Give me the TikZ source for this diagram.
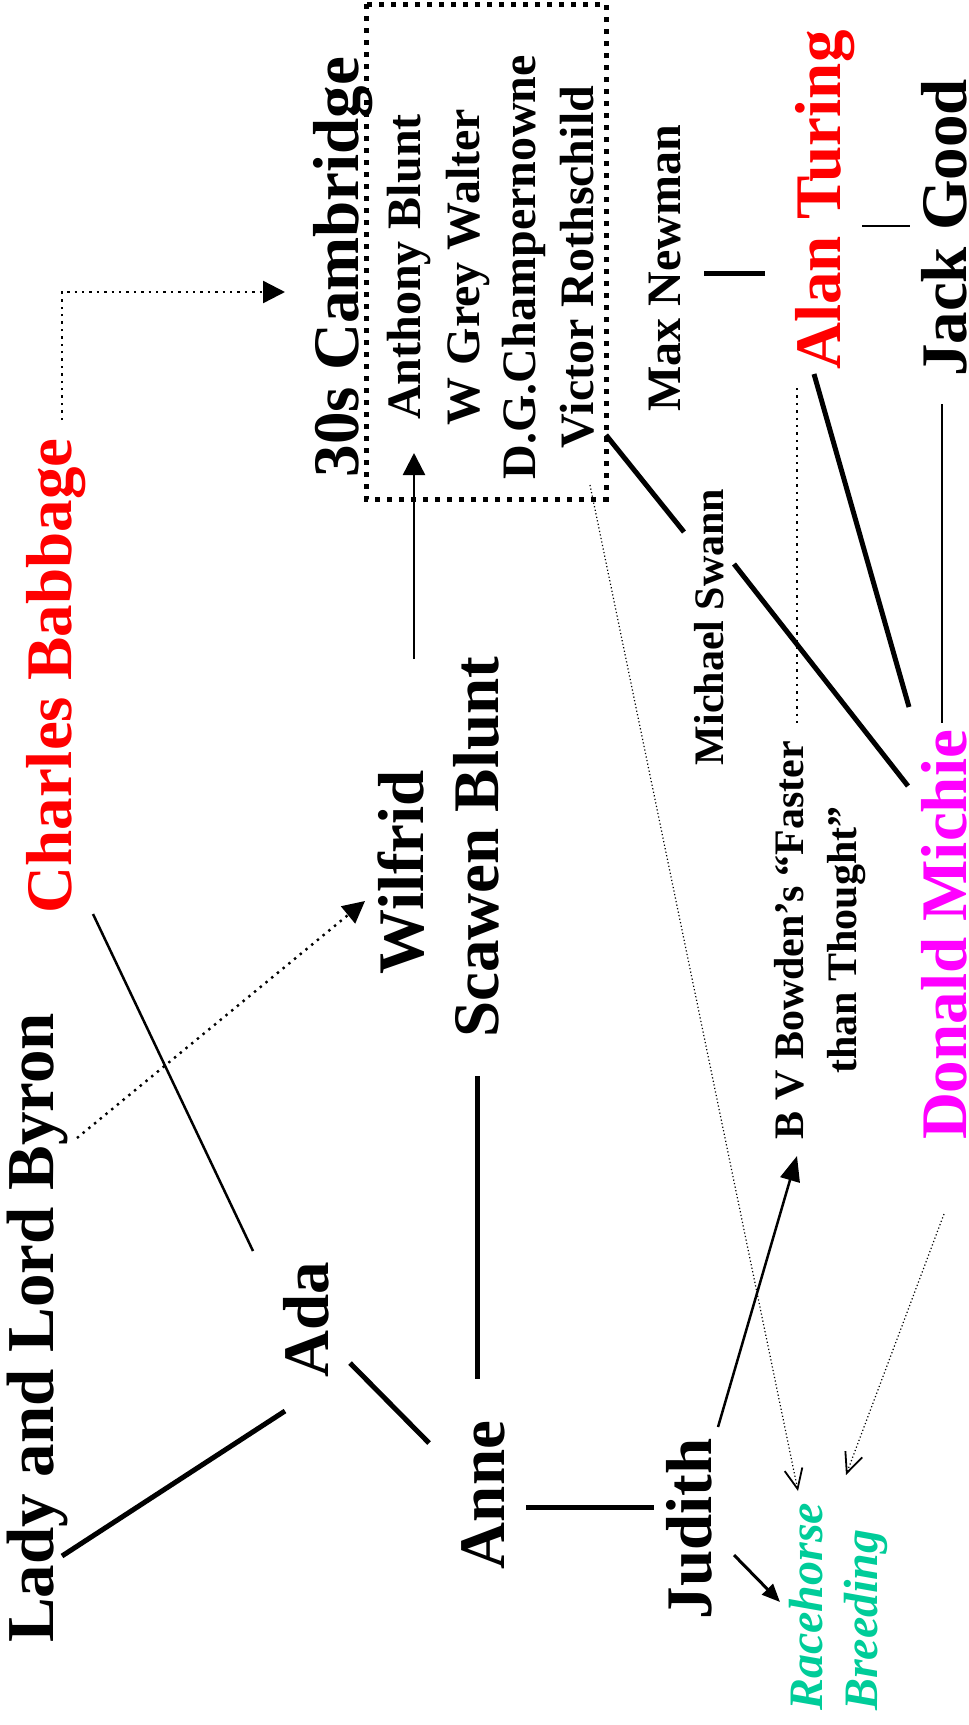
\documentclass[tikz,border=0pt]{standalone}
\usepackage{fontspec}
\setmainfont{Liberation Serif}
\usetikzlibrary{arrows.meta}
\definecolor{bred}{RGB}{255,0,0}
\definecolor{bmag}{RGB}{255,0,255}
\definecolor{bgreen}{RGB}{0,204,153}
\begin{document}
\begin{tikzpicture}[x=1pt,y=-1pt,
  lbl/.style={rotate=90,inner sep=0pt,anchor=base},
  bigf/.style={lbl,font=\fontsize{65}{78}\selectfont\bfseries},
  midf/.style={lbl,font=\fontsize{48}{58}\selectfont\bfseries},
  smallf/.style={lbl,font=\fontsize{42}{50}\selectfont\bfseries},
  greenf/.style={lbl,anchor=base west,text=bgreen,font=\fontsize{48}{58}\selectfont\bfseries\itshape},
  heavy/.style={line width=5pt},
  light/.style={line width=2.5pt},
  dotline/.style={line width=2.4pt,dash pattern=on 2.4pt off 5pt},
  finedot/.style={line width=1.2pt,dash pattern=on 1.2pt off 2.4pt},
  filltip/.style={-{Triangle[length=22pt,width=22pt]}},
  opentip/.style={-{Straight Barb[length=20pt,width=18pt,line width=1.8pt]}},
  boxline/.style={line width=5pt,dash pattern=on 5pt off 7pt},
]
\useasboundingbox (0,0) rectangle (969,1725);

% ---- labels ----
\node[bigf,text=bred] (babbage) at (71,676) {Charles Babbage};
\node[bigf,font=\fontsize{67}{80}\selectfont\bfseries] (byron) at (53,1328) {Lady and Lord Byron};
\node[bigf] (cambridge) at (358,267) {30s Cambridge};
\node[midf] (blunt) at (420,267) {Anthony Blunt};
\node[midf] (walter) at (479,267) {W Grey Walter};
\node[midf] (champ) at (535,267) {D.G.Champernowne};
\node[midf] (rothschild) at (593,267) {Victor Rothschild};
\node[midf] (newman) at (680,268) {Max Newman};
\node[bigf,text=bred] (turing) at (840,200) {Alan Turing};
\node[bigf] (good) at (966,228) {Jack Good};
\node[smallf] (swann) at (723,627) {Michael Swann};
\node[smallf] (bowdenA) at (803,940) {B V Bowden’s “Faster};
\node[smallf] (bowdenB) at (856,940) {than Thought”};
\node[bigf,text=bmag] (michie) at (966,935) {Donald Michie};
\node[bigf,anchor=base west] (wilfrid) at (423,975) {Wilfrid};
\node[bigf,anchor=base west] (scawen) at (498,1038) {Scawen Blunt};
\node[bigf] (ada) at (328,1320) {Ada};
\node[bigf] (anne) at (504,1495) {Anne};
\node[bigf] (judith) at (711,1529) {Judith};
\node[greenf] (racehorse) at (822,1711) {Racehorse};
\node[greenf] (breeding) at (877,1711) {Breeding};

% ---- Cambridge box ----
\draw[boxline] (366,4) rectangle (606,499);

% ---- connector end points ----
\coordinate (babS) at (62,420);
\coordinate (camW) at (285,292);
\coordinate (babA) at (93,914);
\coordinate (adaN) at (253,1251);
\coordinate (byrA) at (77,1138);
\coordinate (wilA) at (365,901);
\coordinate (byrB) at (62,1556);
\coordinate (adaB) at (285,1411);
\coordinate (adaC) at (350,1363);
\coordinate (anneA) at (429,1443);
\coordinate (scaA) at (477,1076);
\coordinate (anneB) at (477,1379);
\coordinate (anneC) at (526,1507);
\coordinate (judA) at (654,1507);
\coordinate (judB) at (718,1427);
\coordinate (bowA) at (797,1156);
\coordinate (judC) at (734,1555);
\coordinate (raceA) at (780,1602);
\coordinate (boxA) at (590,485);
\coordinate (raceB) at (798,1491);
\coordinate (micA) at (944,1214);
\coordinate (breA) at (846,1475);
\coordinate (turA) at (797,388);
\coordinate (bowB) at (797,723);
\coordinate (rotA) at (606,435);
\coordinate (swaA) at (684,532);
\coordinate (swaB) at (734,564);
\coordinate (micB) at (908,786);
\coordinate (turB) at (814,374);
\coordinate (micC) at (909,707);
\coordinate (gooA) at (942,404);
\coordinate (micD) at (942,723);
\coordinate (wilB) at (414,659);
\coordinate (camS) at (414,453);
\coordinate (newA) at (704,273);
\coordinate (newB) at (765,273);
\coordinate (turC) at (862,226);
\coordinate (gooB) at (910,226);

% ---- connectors ----
\draw[dotline,filltip] (babS) |- (camW);
\draw[light] (babA) -- (adaN);
\draw[dotline,filltip] (byrA) -- (wilA);
\draw[heavy] (byrB) -- (adaB);
\draw[heavy] (adaC) -- (anneA);
\draw[heavy] (scaA) -- (anneB);
\draw[heavy] (anneC) -- (judA);
\draw[line width=2.5pt,-{Triangle[length=25pt,width=20pt]}] (judB) -- (bowA);
\draw[line width=3pt,-{Triangle[length=18pt,width=15pt]}] (judC) -- (raceA);
\draw[finedot,opentip] (boxA) -- (raceB);
\draw[finedot,opentip] (micA) -- (breA);
\draw[dotline] (turA) -- (bowB);
\draw[heavy] (rotA) -- (swaA);
\draw[heavy] (swaB) -- (micB);
\draw[heavy] (turB) -- (micC);
\draw[light] (gooA) -- (micD);
\draw[light,filltip] (wilB) -- (camS);
\draw[heavy] (newA) -- (newB);
\draw[line width=1.5pt] (turC) -- (gooB);
\end{tikzpicture}
\end{document}
